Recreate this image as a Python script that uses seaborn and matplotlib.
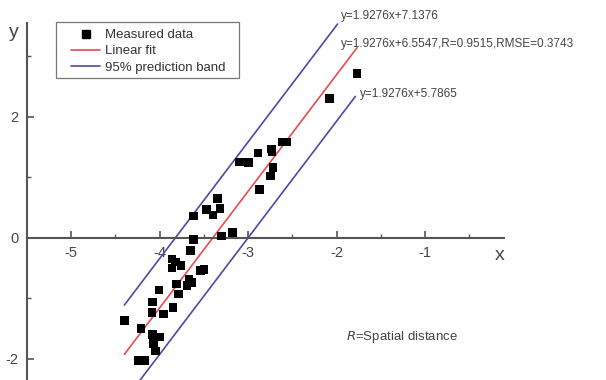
import matplotlib
matplotlib.use('Agg')
import matplotlib.pyplot as plt
from matplotlib.lines import Line2D
from matplotlib.patches import Rectangle
import numpy as np
import pandas as pd
import seaborn as sns

# Measured points
x_meas = [-1.77, -2.08, -2.56, -2.62, -2.74, -2.73, -2.89, -3.10, -3.00, -2.72,
          -2.75, -2.87, -3.35, -3.47, -3.32, -3.40, -3.62, -3.18, -3.30, -3.62,
          -3.65, -3.86, -3.82, -3.76, -3.86, -3.54, -3.50, -3.81, -3.69, -3.64,
          -3.67, -3.79, -4.01, -3.85, -4.08, -4.09, -3.96, -4.40, -4.21, -4.08,
          -4.00, -4.07, -4.05, -4.24, -4.17]
y_meas = [2.72, 2.30, 1.58, 1.58, 1.47, 1.42, 1.40, 1.25, 1.24, 1.16,
          1.02, 0.80, 0.65, 0.47, 0.48, 0.38, 0.36, 0.09, 0.03, -0.03,
          -0.21, -0.35, -0.40, -0.46, -0.50, -0.54, -0.52, -0.76, -0.79, -0.74,
          -0.69, -0.93, -0.86, -1.15, -1.06, -1.23, -1.26, -1.37, -1.50, -1.60,
          -1.64, -1.75, -1.87, -2.03, -2.03]

# fit line and prediction band (slope / intercept, x extent)
slope = 1.9276
fit_icpt = 6.5547
upper_icpt = 7.37      # drawn band sits a bit higher than its label
lower_icpt = 5.7865
fit_x = [-4.40, -1.77]
upper_x = [-4.40, -1.99]
lower_x = [-4.40, -1.79]

x_ticks = [-5, -4, -3, -2, -1]
y_ticks = [-2, 0, 2]

sns.set_style('white')
plt.rcParams['font.family'] = ['Liberation Sans', 'DejaVu Sans']
plt.rcParams['axes.unicode_minus'] = False

fig = plt.figure(figsize=(6.06, 3.8), dpi=100)
ax = fig.add_axes([27/606, 0, (504-27)/606, (380-23)/380])

sns.scatterplot(x=x_meas, y=y_meas, marker='s', s=38, color='black',
                edgecolor='none', ax=ax, zorder=3)

def band(xs, icpt):
    xs = np.array(xs)
    return pd.DataFrame({'x': xs, 'y': slope * xs + icpt})

blue = '#4a4aa8'
red = '#e84b50'
for xs, icpt, col in [(upper_x, upper_icpt, blue), (lower_x, lower_icpt, blue),
                      (fit_x, fit_icpt, red)]:
    d = band(xs, icpt)
    sns.lineplot(data=d, x='x', y='y', color=col, linewidth=1.2, ax=ax)

ax.set_xlim(-5.5, -0.11)
ax.set_ylim(-2.35, 3.55)

# axes styling: bottom spine through y=0
spc = '#555555'
ax.spines['bottom'].set_position(('data', 0))
ax.spines['top'].set_visible(False)
ax.spines['right'].set_visible(False)
for s in ['bottom', 'left']:
    ax.spines[s].set_color(spc)
    ax.spines[s].set_linewidth(1.5)

ax.set_xticks(x_ticks)
ax.set_xticks([-4.5, -3.5, -2.5, -1.5, -0.5], minor=True)
ax.set_yticks(y_ticks)
ax.set_yticks([-1, 1, 3], minor=True)
ax.tick_params(which='major', direction='in', length=5, width=1.2, color=spc,
               labelsize=10.5, labelcolor='#444444', pad=6)
ax.tick_params(which='minor', direction='in', length=3, width=1.0, color=spc)
ax.tick_params(axis='x', which='both', bottom=True)
ax.tick_params(axis='y', which='both', left=True)
ax.set_xlabel('')
ax.set_ylabel('')

ax.text(-0.16, -0.30, 'x', fontsize=14, color='#444444', ha='center', va='center', clip_on=False)
ax.text(-5.65, 3.40, 'y', fontsize=14, color='#444444', ha='center', va='center', clip_on=False)

tc = '#444444'
ax.text(-1.95, 3.67, 'y=1.9276x+7.1376', fontsize=8.5, color=tc, va='center', clip_on=False)
ax.text(-1.95, 3.20, 'y=1.9276x+6.5547,R=0.9515,RMSE=0.3743', fontsize=8.5, color=tc, va='center')
ax.text(-1.74, 2.38, 'y=1.9276x+5.7865', fontsize=8.5, color=tc, va='center')
ax.text(-1.90, -1.64, r'$\it{R}$=Spatial distance', fontsize=9.5, color=tc, va='center')

handles = [Line2D([], [], marker='s', color='black', linestyle='none', markersize=6),
           Line2D([], [], color=red, linewidth=1.2),
           Line2D([], [], color=blue, linewidth=1.2)]
labels = ['Measured data', 'Linear fit', '95% prediction band']
leg = ax.legend(handles, labels, loc='upper left', bbox_to_anchor=(71/606, 1-29/380),
                bbox_transform=fig.transFigure, borderaxespad=0, fontsize=9.5,
                frameon=False, handlelength=2.2, borderpad=0,
                labelspacing=0.3, handletextpad=0.4)
for t in leg.get_texts():
    t.set_color('#333333')

# legend box drawn separately for the wider side padding
fig.patches.append(Rectangle((56/606, 1-78/380), (239-56)/606, (78-22)/380,
                             transform=fig.transFigure, fill=False,
                             edgecolor='#777777', linewidth=0.9))

fig.savefig('out.png', dpi=100)
